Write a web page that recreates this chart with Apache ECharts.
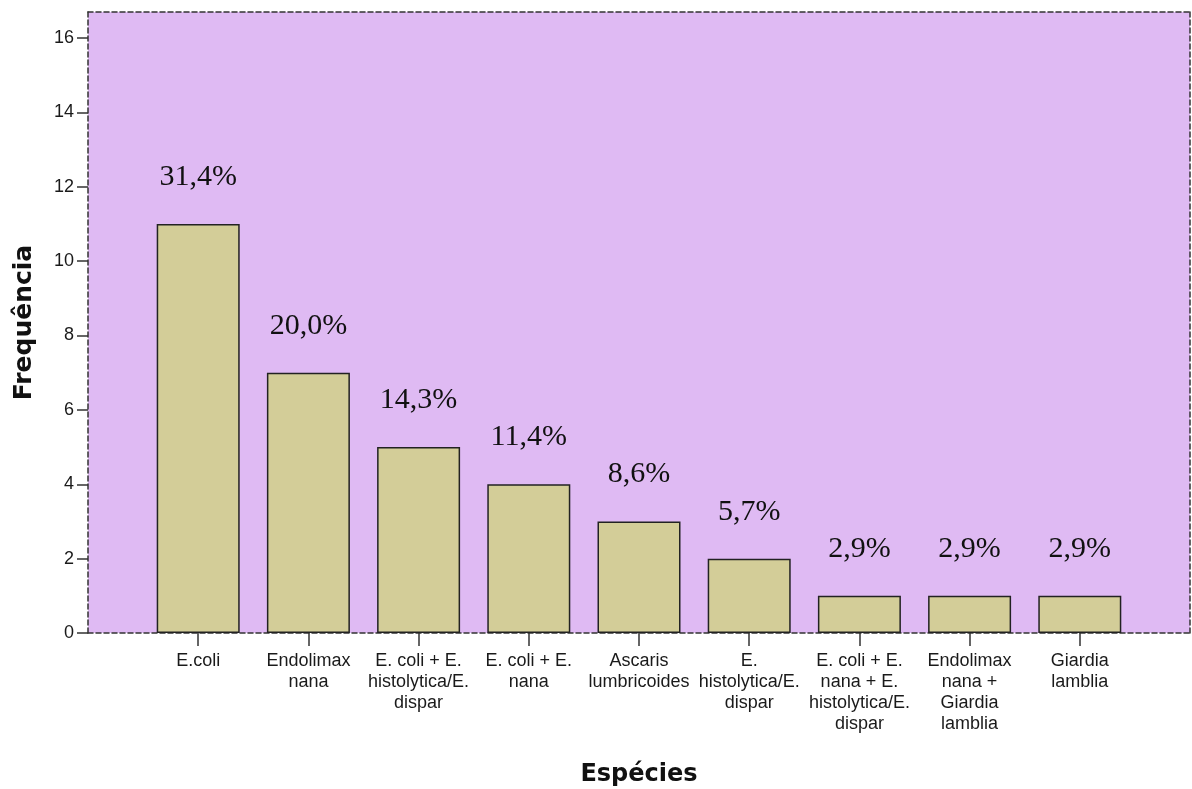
<!DOCTYPE html>
<html>
<head>
<meta charset="utf-8">
<script src="https://cdn.jsdelivr.net/npm/echarts@6/dist/echarts.min.js"></script>
<style>
  html, body { margin: 0; padding: 0; background: #fff; }
  #chart { width: 1192px; height: 789px; }
</style>
</head>
<body>
<div id="chart"></div>
<script>
// empty slots at both ends keep the half-gap that the original plot has
const categories = ['', 'E.coli', 'Endolimax\nnana', 'E. coli + E.\nhistolytica/E.\ndispar', 'E. coli + E.\nnana',
  'Ascaris\nlumbricoides', 'E.\nhistolytica/E.\ndispar', 'E. coli + E.\nnana + E.\nhistolytica/E.\ndispar',
  'Endolimax\nnana +\nGiardia\nlamblia', 'Giardia\nlamblia', ''];
const frequencies = [null, 11, 7, 5, 4, 3, 2, 1, 1, 1, null];
const percentLabels = ['', '31,4%', '20,0%', '14,3%', '11,4%', '8,6%', '5,7%', '2,9%', '2,9%', '2,9%', ''];
const yTicks = [0, 2, 4, 6, 8, 10, 12, 14, 16];

const dashed = { color: '#333', width: 1.5, type: [5, 3] };
const labelFont = { fontFamily: 'Liberation Sans, Arial, sans-serif', fontSize: 18, color: '#1a1a1a' };

const chart = echarts.init(document.getElementById('chart'));
chart.setOption({
  animation: false,
  grid: { left: 88, right: 2, top: 12, bottom: 156, show: true, backgroundColor: '#dfbaf3', borderWidth: 0,
    outerBoundsMode: 'none' },
  xAxis: [{
    type: 'category',
    data: categories,
    boundaryGap: false,
    axisLine: { lineStyle: dashed },
    axisTick: { length: 13, lineStyle: { color: '#333', width: 1.5 }, interval: (i) => i > 0 && i < categories.length - 1 },
    axisLabel: Object.assign({ interval: 0, margin: 18, lineHeight: 21, align: 'center' }, labelFont),
    name: 'Espécies',
    nameLocation: 'middle',
    nameGap: 130,
    nameTextStyle: { fontFamily: 'DejaVu Sans, sans-serif', fontWeight: 'bold', fontSize: 24, color: '#111', verticalAlign: 'top' }
  }, {
    type: 'category',
    position: 'top',
    data: categories,
    boundaryGap: false,
    axisLine: { onZero: false, lineStyle: dashed },
    axisTick: { show: false },
    axisLabel: { show: false }
  }],
  yAxis: [{
    type: 'value',
    min: 0,
    max: 16.7,
    interval: 2,
    splitLine: { show: false },
    axisLine: { show: true, onZero: false, lineStyle: dashed },
    axisTick: { show: true, length: 11, lineStyle: { color: '#333', width: 1.5 } },
    axisLabel: Object.assign({ margin: 14, showMaxLabel: false,
      formatter: (v) => yTicks.includes(v) ? String(v) : '' }, labelFont),
    name: 'Frequência',
    nameLocation: 'middle',
    nameRotate: 90,
    nameGap: 51,
    nameTextStyle: { fontFamily: 'DejaVu Sans, sans-serif', fontWeight: 'bold', fontSize: 25, color: '#111' }
  }, {
    type: 'value',
    position: 'right',
    min: 0,
    max: 16.7,
    splitLine: { show: false },
    axisLine: { show: true, onZero: false, lineStyle: dashed },
    axisTick: { show: false },
    axisLabel: { show: false }
  }],
  series: [{
    type: 'bar',
    data: frequencies,
    barWidth: 83,
    itemStyle: { color: '#d3cd98', borderColor: '#222', borderWidth: 1.5 },
    label: {
      show: true,
      position: 'top',
      distance: 32,
      fontFamily: 'Liberation Serif, Times New Roman, serif',
      fontSize: 30,
      color: '#111',
      formatter: (p) => percentLabels[p.dataIndex]
    }
  }]
});
</script>
</body>
</html>
